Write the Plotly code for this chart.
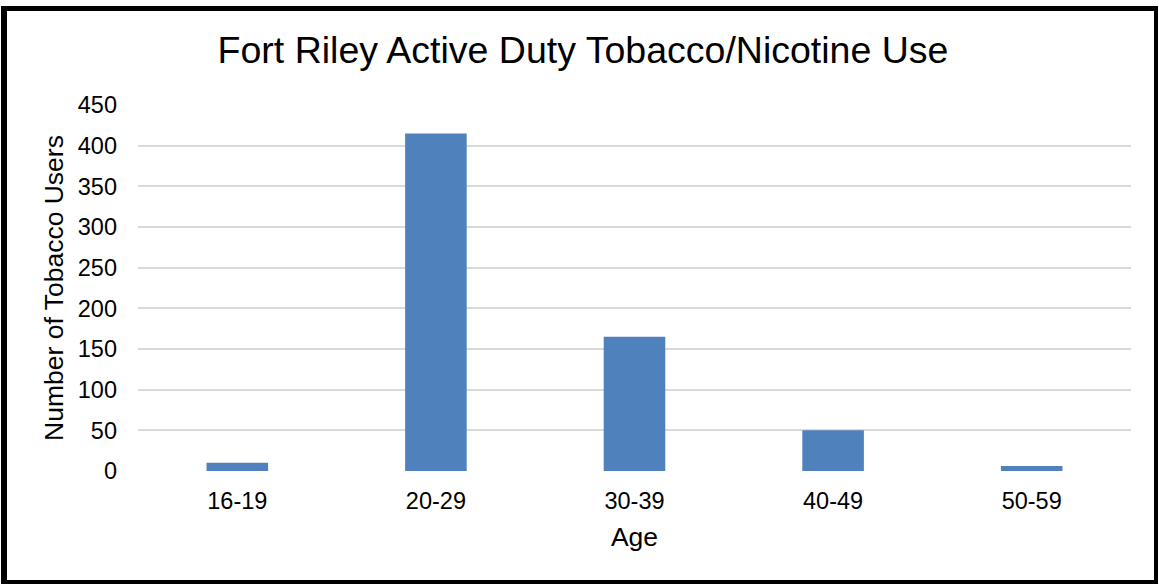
import plotly.graph_objects as go

categories = ["16-19", "20-29", "30-39", "40-49", "50-59"]
users = [10, 415, 165, 50, 6]
y_ticks = [0, 50, 100, 150, 200, 250, 300, 350, 400, 450]

W, H = 1159, 584
ML, MR, MT, MB = 138, 28, 105, 113
PW, PH = W - ML - MR, H - MT - MB

def px(x):
    return (x - ML) / PW

def py(y):
    return 1 - (y - MT) / PH

fig = go.Figure()
fig.add_trace(go.Bar(x=categories, y=users, marker=dict(color="#4F81BD", line=dict(width=0))))

FONT = "Liberation Sans, Arial, sans-serif"
shapes = []
for x0, y0, x1, y1 in [(1, 6, 7, 584), (1, 6, 1158, 11), (1154, 6, 1158, 584), (1, 580, 1158, 584)]:
    shapes.append(dict(type="rect", xref="paper", yref="paper",
                       x0=px(x0), x1=px(x1), y0=py(y1), y1=py(y0),
                       fillcolor="black", line=dict(width=0), layer="above"))

fig.update_layout(
    width=W, height=H,
    margin=dict(l=ML, r=MR, t=MT, b=MB),
    paper_bgcolor="white", plot_bgcolor="white",
    font=dict(family=FONT, color="black", size=23.5),
    title=dict(text="Fort Riley Active Duty Tobacco/Nicotine Use", x=0.503, xanchor="center",
               y=1 - 50 / H, yanchor="middle", font=dict(size=37.5, family=FONT, color="black")),
    bargap=0.69,
    showlegend=False,
    shapes=shapes,
    xaxis=dict(title=dict(text="Age", font=dict(size=26.5), standoff=14),
               tickfont=dict(size=23.5), showgrid=False, showline=False, ticks="",
               ticklabelstandoff=13),
    yaxis=dict(title=dict(text="Number of Tobacco Users", font=dict(size=26.5), standoff=6),
               range=[0, 450], tickvals=y_ticks, tickfont=dict(size=23.5),
               showgrid=True, gridcolor="#D9D9D9", gridwidth=2, zeroline=False,
               showline=False, ticks="", ticklabelstandoff=20),
)

fig.write_html("out.html")
